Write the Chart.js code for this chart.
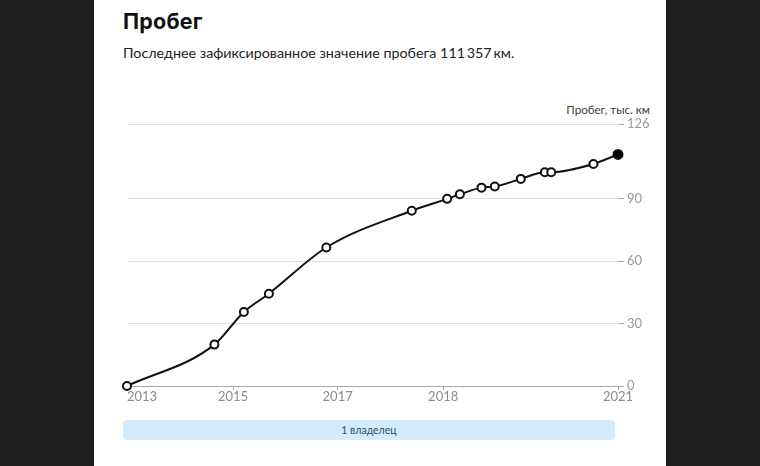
<!DOCTYPE html>
<html lang="ru">
<head>
<meta charset="utf-8">
<script src="https://cdn.jsdelivr.net/npm/chart.js@4"></script>
<style>
  html,body{margin:0;padding:0}
  body{width:760px;height:466px;background:#1e1e1e;position:relative;overflow:hidden;font-family:Lato,"Open Sans",sans-serif}
  .panel{position:absolute;left:94px;top:0;width:572px;height:466px;background:#fff}
  .title{position:absolute;left:123px;top:8px;font:700 21.5px Inter,Roboto,sans-serif;color:#111;letter-spacing:0.2px}
  .sub{position:absolute;left:123px;top:44px;font:14.3px Lato,sans-serif;color:#222}
  .ytitle{position:absolute;right:110px;top:103px;font:11.6px Lato,sans-serif;color:#3d3d33}
  .box{position:absolute;left:100px;top:100px;width:566px;height:320px}
  .owner{position:absolute;left:123px;top:420px;width:492px;height:20px;background:#d3ebfb;border-radius:4px;
    font:10.5px Lato,sans-serif;color:#2f4e6e;text-align:center;line-height:20px}
</style>
</head>
<body>
<div class="panel"></div>
<div class="title">Пробег</div>
<div class="sub">Последнее зафиксированное значение пробега 111&#8201;357&#8201;км.</div>
<div class="ytitle">Пробег, тыс. км</div>
<div class="box"><canvas id="mileChart"></canvas></div>
<div class="owner">1 владелец</div>
<script>
/* ── data ── */
const xLabels=['2013','2015','2017','2018','2021'];
const xTickPos=[0,21.6,42.9,64.4,100];
const xPos=[0,17.8,23.8,28.9,40.6,58.0,65.2,67.8,72.2,74.9,80.2,85.1,86.4,95.0,100];
const mileage=[0,19.9,35.6,44.4,66.6,84.3,90.0,92.2,95.4,95.9,99.6,102.8,102.8,106.8,111.357];
const yTicks=[0,30,60,90,126];

const points=xPos.map(function(x,i){return {x:x,y:mileage[i]}});
const last=points.length-1;

// x labels: first one left-aligned, the rest centred on their tick
const xLabelPlugin={
  id:'xLabels',
  afterDraw(chart){
    const ctx=chart.ctx, xs=chart.scales.x, area=chart.chartArea;
    ctx.save();
    ctx.font='13px Lato, sans-serif';
    ctx.fillStyle='#8c8c8c';
    ctx.textBaseline='middle';
    xLabels.forEach(function(l,i){
      ctx.textAlign=i===0?'left':'center';
      ctx.fillText(l,xs.getPixelForValue(xTickPos[i]),area.bottom+11);
    });
    ctx.restore();
  }
};

new Chart(document.getElementById('mileChart'),{
  type:'line',
  data:{datasets:[{
    data:points,
    borderColor:'#111',
    borderWidth:2,
    cubicInterpolationMode:'monotone',
    pointRadius:function(c){return c.dataIndex===last?4.5:4},
    pointBackgroundColor:function(c){return c.dataIndex===last?'#000':'#fff'},
    pointBorderColor:'#111',
    pointBorderWidth:2,
    clip:false
  }]},
  options:{
    responsive:true,maintainAspectRatio:false,animation:false,
    layout:{padding:{left:27,top:24,right:0,bottom:0}},
    plugins:{legend:{display:false},tooltip:{enabled:false}},
    scales:{
      x:{
        type:'linear',min:0,max:100,
        afterBuildTicks:function(s){s.ticks=xTickPos.map(function(v){return {value:v}})},
        afterFit:function(s){s.height=34},
        ticks:{display:false},
        grid:{drawOnChartArea:false,drawTicks:true,tickLength:4,tickColor:'#aaa'},
        border:{color:'#a8a8a8',width:1}
      },
      y:{
        position:'right',min:0,max:126,
        afterBuildTicks:function(s){s.ticks=yTicks.map(function(v){return {value:v}})},
        afterFit:function(s){s.width=48},
        ticks:{color:'#999',font:{family:'Lato',size:13},padding:3},
        grid:{color:function(c){return c.tick&&c.tick.value===0?'#a8a8a8':'#e2e2e2'},tickColor:'#aaa',tickLength:6},
        border:{display:false}
      }
    }
  },
  plugins:[xLabelPlugin]
});
</script>
</body>
</html>
